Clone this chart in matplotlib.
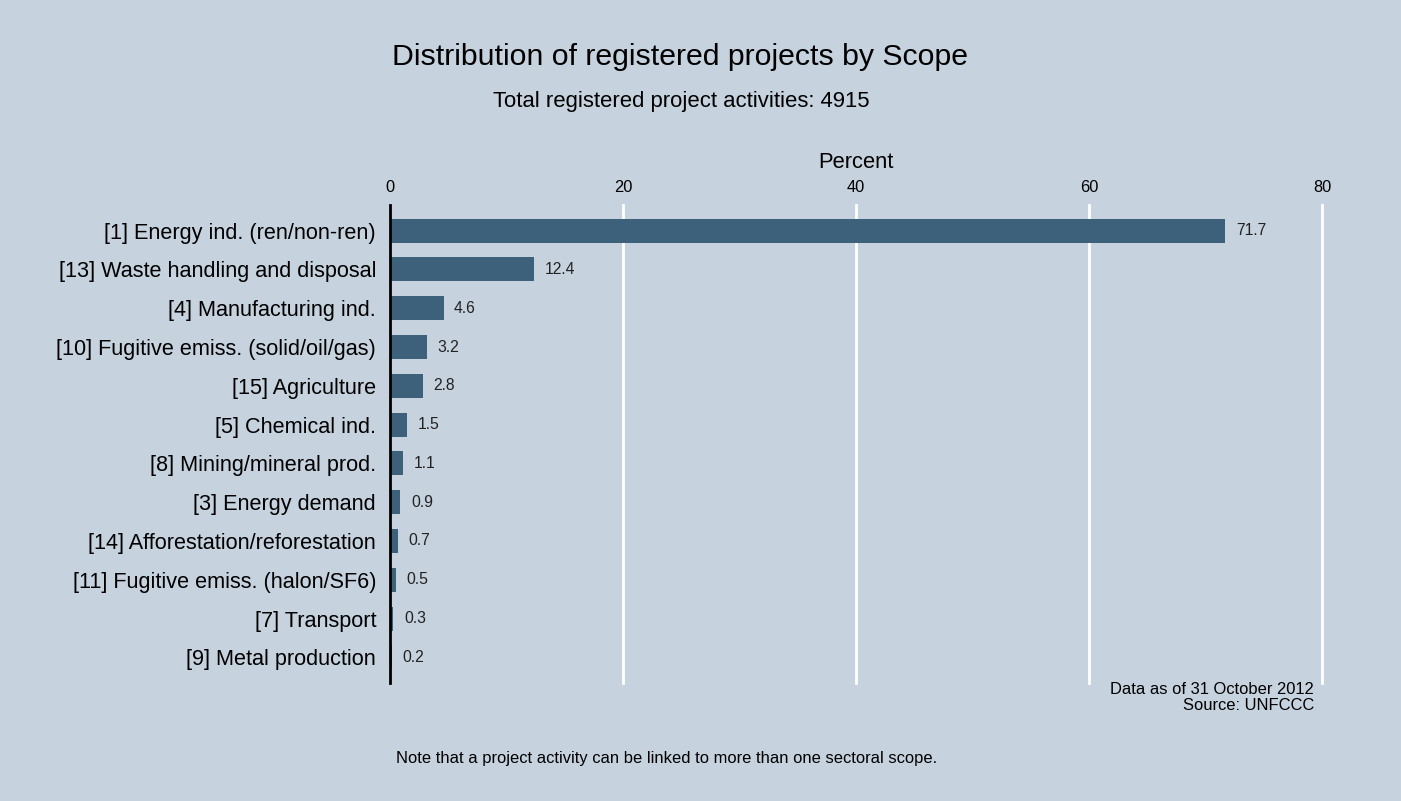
import matplotlib.pyplot as plt

plt.rcParams['font.family'] = ['Liberation Sans', 'DejaVu Sans']

scopes = ["[1] Energy ind. (ren/non-ren)", "[13] Waste handling and disposal",
          "[4] Manufacturing ind.", "[10] Fugitive emiss. (solid/oil/gas)",
          "[15] Agriculture", "[5] Chemical ind.", "[8] Mining/mineral prod.",
          "[3] Energy demand", "[14] Afforestation/reforestation",
          "[11] Fugitive emiss. (halon/SF6)", "[7] Transport", "[9] Metal production"]
percent = [71.7, 12.4, 4.6, 3.2, 2.8, 1.5, 1.1, 0.9, 0.7, 0.5, 0.3, 0.2]
xticks = [0, 20, 40, 60, 80]

bg = '#c6d2de'
bar_color = '#3d617b'

fig = plt.figure(figsize=(14.01, 8.01), dpi=100, facecolor=bg)
ax = fig.add_axes([390 / 1401, 118 / 801, 932 / 1401, 478 / 801])
ax.set_facecolor(bg)

y = list(range(len(scopes)))
ax.barh(y, percent, height=0.62, color=bar_color, zorder=3)
for yi, v in zip(y, percent):
    ax.text(v + 0.9, yi, f"{v:.1f}", va='center', ha='left', fontsize=11.3, color='#222222')

# white vertical grid lines
for t in xticks[1:]:
    ax.axvline(t, color='white', linewidth=2, zorder=0, clip_on=False)

ax.set_xlim(0, 80)
ax.set_ylim(len(scopes) - 0.34, -0.66)
ax.set_yticks(y)
ax.set_yticklabels(scopes, fontsize=15.6)
ax.set_xticks(xticks)
ax.xaxis.tick_top()
ax.xaxis.set_label_position('top')
ax.set_xlabel("Percent", fontsize=15.8, labelpad=9)
ax.tick_params(axis='x', length=0, labelsize=11.8, pad=7)
ax.tick_params(axis='y', length=0, pad=10)
for s in ['top', 'right', 'bottom']:
    ax.spines[s].set_visible(False)
ax.spines['left'].set_linewidth(2)
ax.spines['left'].set_zorder(4)

fig.text(680 / 1401, 1 - 57 / 801, "Distribution of registered projects by Scope",
         ha='center', va='center', fontsize=21.8)
fig.text(681 / 1401, 1 - 101 / 801, "Total registered project activities: 4915",
         ha='center', va='center', fontsize=15.9)
fig.text(1314 / 1401, 1 - 690 / 801, "Data as of 31 October 2012",
         ha='right', va='center', fontsize=11.9)
fig.text(1314 / 1401, 1 - 706 / 801, "Source: UNFCCC",
         ha='right', va='center', fontsize=11.9)
fig.text(396 / 1401, 1 - 758 / 801,
         "Note that a project activity can be linked to more than one sectoral scope.",
         ha='left', va='center', fontsize=11.9)

fig.savefig("out.png", dpi=100, facecolor=bg)
